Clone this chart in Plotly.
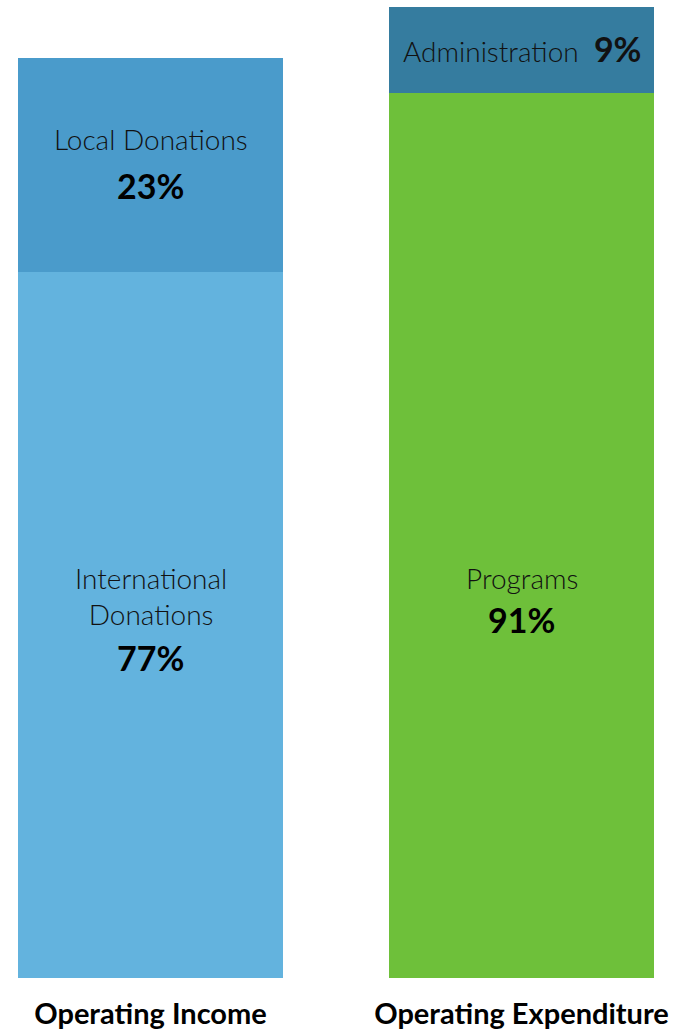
import plotly.graph_objects as go

categories = ["Operating Income", "Operating Expenditure"]
# segment amounts (bottom segment first, top segment second)
bottom_names = ["International<br>Donations", "Programs"]
bottom_values = [706, 885]
top_names = ["Local Donations", "Administration"]
top_values = [214, 86]

bottom_colors = ["#63B3DE", "#6EC03A"]
top_colors = ["#4A9BCB", "#357C9F"]

FONT = "Lato"
totals = [b + t for b, t in zip(bottom_values, top_values)]
bottom_pct = [round(100 * b / s) for b, s in zip(bottom_values, totals)]
top_pct = [round(100 * t / s) for t, s in zip(top_values, totals)]

fig = go.Figure()
fig.add_bar(x=[0, 1], y=bottom_values, marker=dict(color=bottom_colors, line=dict(width=0)),
            width=0.714, hoverinfo="skip")
fig.add_bar(x=[0, 1], y=top_values, base=bottom_values,
            marker=dict(color=top_colors, line=dict(width=0)),
            width=0.714, hoverinfo="skip")

label_font = dict(family=FONT, size=28, color="#111111", weight=300)
pct_font = dict(family=FONT, size=34, color="#000000", weight=700)

ann = []
# Operating Income
mid_top0 = bottom_values[0] + top_values[0] / 2
mid_bot0 = bottom_values[0] / 2
ann.append(dict(x=0, y=mid_top0, text=top_names[0], font=label_font, yshift=26))
ann.append(dict(x=0, y=mid_top0, text=f"{top_pct[0]}%", font=pct_font, yshift=-20))
ann.append(dict(x=0, y=mid_bot0, text=bottom_names[0], font=label_font, yshift=29))
ann.append(dict(x=0, y=mid_bot0, text=f"{bottom_pct[0]}%", font=pct_font, yshift=-32))
# Operating Expenditure
mid_top1 = bottom_values[1] + top_values[1] / 2
mid_bot1 = bottom_values[1] / 2
ann.append(dict(x=1, y=mid_top1,
                text=f"{top_names[1]}  <span style='font-size:34px;font-weight:bold'>{top_pct[1]}%</span>",
                font=label_font, yshift=2))
ann.append(dict(x=1, y=mid_bot1, text=bottom_names[1], font=label_font, yshift=-42))
ann.append(dict(x=1, y=mid_bot1, text=f"{bottom_pct[1]}%", font=pct_font, yshift=-84))
for a in ann:
    a.update(xref="x", yref="y", showarrow=False, xanchor="center", yanchor="middle")

fig.update_layout(
    width=677, height=1032,
    margin=dict(l=0, r=0, t=0, b=54),
    paper_bgcolor="white", plot_bgcolor="white",
    barmode="overlay", bargap=0,
    showlegend=False,
    annotations=ann,
    xaxis=dict(range=[-0.4057, 1.4191], tickvals=[0, 1], ticktext=categories,
               showgrid=False, zeroline=False, showline=False, ticks="",
               tickfont=dict(family=FONT, size=29, color="#000000", weight=700),
               ticklabelstandoff=16, fixedrange=True),
    yaxis=dict(range=[0, 978], visible=False, fixedrange=True),
)

fig.write_html("out.html", config={"displayModeBar": False})
